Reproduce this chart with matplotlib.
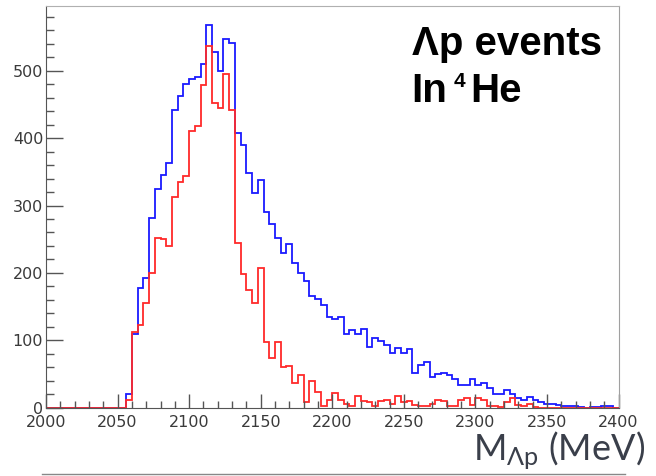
import matplotlib
matplotlib.use("Agg")
import matplotlib.pyplot as plt
from matplotlib.lines import Line2D
from matplotlib.ticker import MultipleLocator
import numpy as np

# bin edges: 100 bins of 4 MeV from 2000 to 2400
bin_lo, bin_hi, bin_w = 2000, 2400, 4

# Lambda-p invariant mass, all events (blue), counts per bin
blue_counts = [0] * 14 + [
    20, 110, 178, 193, 282, 324, 345, 363, 442, 462,
    480, 487, 491, 510, 568, 528, 500, 547, 541, 408,
    390, 348, 319, 338, 291, 272, 252, 229, 243, 214,
    200, 188, 166, 162, 153, 135, 131, 135, 110, 115,
    110, 117, 90, 104, 99, 93, 81, 88, 81, 87,
    52, 63, 68, 46, 50, 52, 48, 43, 34, 34,
    42, 34, 37, 29, 21, 21, 26, 21, 15, 11,
    16, 11, 9, 6, 5, 4, 3, 3, 3, 1,
    0, 1, 1, 2, 2, 0,
]

# selected events (red)
red_counts = [0] * 14 + [
    12, 112, 122, 155, 200, 252, 250, 240, 313, 335,
    344, 410, 418, 479, 536, 452, 445, 495, 442, 244,
    198, 175, 155, 207, 98, 73, 98, 61, 62, 36,
    48, 9, 40, 24, 3, 12, 22, 12, 5, 3,
    18, 10, 8, 3, 10, 12, 5, 18, 8, 10,
    4, 3, 2, 5, 12, 10, 3, 2, 12, 15,
    4, 14, 12, 3, 2, 1, 8, 14, 4, 2,
    6, 1,
] + [0] * 14

edges = np.arange(bin_lo, bin_hi + bin_w, bin_w)

plt.rcParams["mathtext.fontset"] = "custom"
plt.rcParams["mathtext.rm"] = "Lato"
plt.rcParams["mathtext.it"] = "Lato"

fig = plt.figure(figsize=(6.56, 4.76), dpi=100)
ax = fig.add_axes([46 / 656, 1 - 407.7 / 476, 572.5 / 656, 401.7 / 476])

ax.stairs(blue_counts, edges, color="#1a1aff", lw=1.3)
ax.stairs(red_counts, edges, color="#ff2a2a", lw=1.3)

ax.set_xlim(bin_lo, bin_hi)
ax.set_ylim(0, 596)

ax.xaxis.set_major_locator(MultipleLocator(50))
ax.xaxis.set_minor_locator(MultipleLocator(10))
ax.yaxis.set_major_locator(MultipleLocator(100))
ax.yaxis.set_minor_locator(MultipleLocator(20))

ax.tick_params(axis="both", which="both", direction="in", color="#555555",
               width=1, labelcolor="#3a3a3a", labelsize=11.5)
ax.tick_params(axis="y", which="major", length=12, pad=2)
ax.tick_params(axis="y", which="minor", length=6)
ax.tick_params(axis="x", which="major", length=10, pad=5)
ax.tick_params(axis="x", which="minor", length=5)
for lab in ax.get_xticklabels() + ax.get_yticklabels():
    lab.set_family("DejaVu Sans")

ax.spines["left"].set_color("#555555")
ax.spines["bottom"].set_color("#555555")
ax.spines["top"].set_color("#b0b0b0")
ax.spines["right"].set_color("#a0a0a0")

# annotation, top right
bold = dict(fontweight="bold", family=["Liberation Sans", "DejaVu Sans"],
            ha="left", va="baseline", color="black")
fig.text(411.7 / 656, 1 - 55 / 476, "\u039bp events", fontsize=29, **bold)
fig.text(411.7 / 656, 1 - 101.7 / 476, "In", fontsize=29, **bold)
fig.text(454 / 656, 1 - 87 / 476, "4", fontsize=15, **bold)
fig.text(470 / 656, 1 - 101.7 / 476, "He", fontsize=29, **bold)

fig.text(473 / 656, 1 - 460 / 476, r"M$_{\mathrm{\Lambda p}}$ (MeV)",
         fontsize=26, family=["Lato", "DejaVu Sans"], color="#3a3f4a",
         ha="left", va="baseline")

fig.add_artist(Line2D([42 / 656, 625 / 656], [1 - 474 / 476, 1 - 474 / 476],
                      transform=fig.transFigure, color="#888888", lw=1))

fig.savefig("out.png", dpi=100)
